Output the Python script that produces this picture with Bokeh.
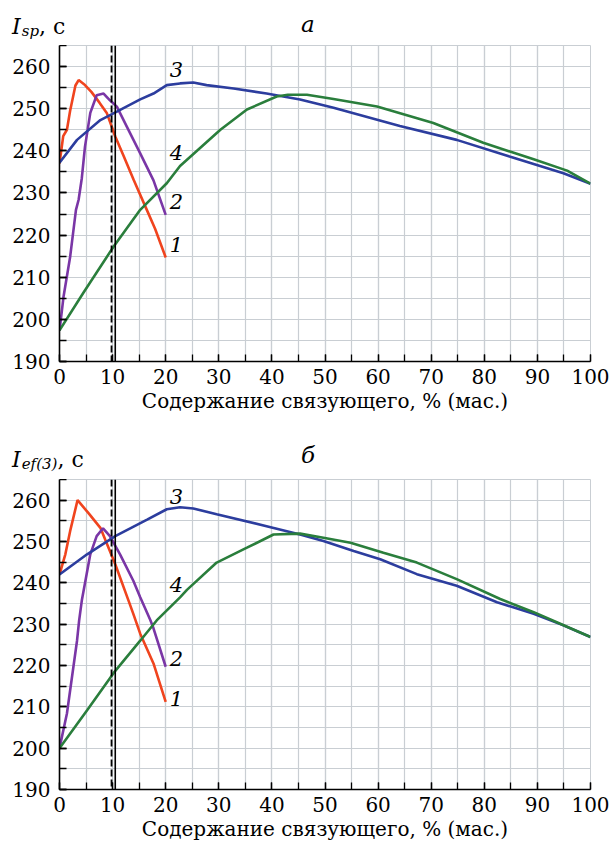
from bokeh.plotting import figure
from bokeh.layouts import column
from bokeh.models import FixedTicker, Span, Label, Range1d, Div
from bokeh.embed import file_html
from bokeh.resources import INLINE

# ---------------- data ----------------
x_ticks = [0, 10, 20, 30, 40, 50, 60, 70, 80, 90, 100]
y_ticks = [190, 200, 210, 220, 230, 240, 250, 260]
x_minor = list(range(0, 101, 5))
y_minor = list(range(190, 266, 5))
x_title = "Содержание связующего, % (мас.)"
vline_dashed = 9.8
vline_solid = 10.5

# panel a (I_sp)
a1_x = [0, 0.7, 1.4, 2, 3, 3.6, 4.8, 6, 7.5, 8.9, 10.5, 12, 14, 16.3, 18, 20]
a1_y = [237, 243.5, 245, 249.5, 255.5, 256.8, 255.6, 254, 251.5, 249, 243.4, 239, 233, 226.4, 221.5, 214.7]
a2_x = [0, 0.75, 2, 3.1, 3.6, 4.2, 4.8, 5.8, 7, 8.3, 9.5, 10.8, 12.7, 15.2, 17.7, 20]
a2_y = [197.3, 205.3, 214.8, 226, 228.4, 233.5, 241, 249, 253.2, 253.6, 252, 250.5, 245.7, 239.4, 233, 224.8]
a3_x = [0, 3.3, 7.7, 10.8, 15.2, 17.7, 20.2, 22.7, 25.2, 27.7, 32.8, 39, 45.3, 51.6, 64.1, 74.8, 84.9, 94.9, 100]
a3_y = [237.2, 242.6, 247.3, 249.3, 252.2, 253.6, 255.6, 256, 256.2, 255.6, 254.8, 253.6, 252.2, 250.2, 245.9, 242.6, 238.6, 234.7, 232.2]
a4_x = [0, 4.5, 10.2, 15.2, 20.2, 22.7, 30.3, 35.3, 40.9, 43, 46.6, 51.6, 59.8, 70.4, 79.8, 89.3, 95.6, 100]
a4_y = [197.4, 206.3, 217.3, 226, 232.3, 236.4, 245, 249.8, 252.9, 253.3, 253.3, 252.3, 250.5, 246.6, 241.9, 238, 235.3, 232.2]

# panel b (I_ef(3))
b1_x = [0, 1.1, 2, 3.4, 5.5, 7.7, 10.5, 13, 13.9, 15.2, 17.7, 20]
b1_y = [242, 246.9, 252.5, 260, 256.8, 253.3, 244.5, 235.7, 232.5, 227.7, 220.5, 211.2]
b2_x = [0, 1.4, 3.3, 3.7, 4.2, 5.8, 7, 8.2, 9.5, 11.4, 13.9, 15.2, 17.1, 17.7, 20]
b2_y = [200, 208.4, 226, 230.9, 235.7, 246.9, 251.3, 253.2, 251.3, 246.9, 240.5, 236.5, 231, 229, 219.7]
b3_x = [0, 5.2, 10.5, 16.5, 20.2, 22.7, 25.2, 29.6, 39, 45.3, 49.7, 55.4, 60.4, 67.3, 74.8, 82.4, 89.3, 94.9, 100]
b3_y = [242, 246.9, 251.3, 255.3, 257.8, 258.3, 258, 256.6, 253.7, 251.7, 250.1, 247.7, 245.7, 242.1, 239.3, 235.3, 232.5, 229.7, 226.9]
b4_x = [0, 5.2, 10.2, 15.2, 18.3, 22.7, 24, 29.6, 35.3, 40.3, 45.3, 49.7, 54.8, 61, 67.3, 74.8, 83, 89.3, 94.3, 100]
b4_y = [200, 209.2, 218.2, 226, 230.9, 236.5, 238.3, 244.9, 248.5, 251.7, 251.9, 250.9, 249.7, 247.3, 244.9, 240.9, 236.1, 232.9, 230.1, 226.9]

colors = ["#f0441e", "#7a36a6", "#2c3d9e", "#2a7e3c"]
curve_names = ["1", "2", "3", "4"]
a_label_y = [217.7, 227.9, 259.2, 239.5]
b_label_y = [212.1, 221.7, 261.0, 239.7]
label_x = 22

FONT = "DejaVu Serif"
GRID = "#c9ced3"


def header(height, sub, letter, base, letter_base):
    top_i = base - 18.6
    top_l = letter_base - 19.5
    html = (
        f'<div style="position:relative;width:611px;height:{height}px;margin:0;padding:0;'
        f"font-family:'DejaVu Serif',serif;color:black;\">"
        f'<span style="position:absolute;left:12px;top:{top_i}px;font-size:22px;line-height:22px;white-space:nowrap;">'
        f'<i>I</i><i style="font-size:15px;position:relative;top:2px;margin-left:1px;">{sub}</i>, с</span>'
        f'<span style="position:absolute;left:301px;top:{top_l}px;font-size:23px;line-height:23px;">'
        f'<i>{letter}</i></span></div>'
    )
    return Div(text=html, width=611, height=height, margin=(0, 0, 0, 0))


def make_panel(height, bottom, series, label_ys):
    p = figure(width=611, height=height, output_backend="svg", toolbar_location=None,
               x_range=Range1d(0, 100), y_range=Range1d(190, 265),
               min_border_left=59, min_border_right=21, min_border_top=0,
               min_border_bottom=bottom)
    p.outline_line_color = GRID
    p.background_fill_color = "white"
    p.border_fill_color = "white"
    xt = FixedTicker(ticks=x_ticks, minor_ticks=x_minor)
    yt = FixedTicker(ticks=y_ticks, minor_ticks=y_minor)
    p.xaxis.ticker = xt
    p.yaxis.ticker = yt
    p.xgrid.ticker = xt
    p.ygrid.ticker = yt
    for ax in (p.xaxis[0], p.yaxis[0]):
        ax.axis_line_color = "black"
        ax.axis_line_width = 1.6
        ax.major_tick_line_color = "black"
        ax.minor_tick_line_color = "black"
        ax.major_tick_line_width = 1.3
        ax.minor_tick_line_width = 1.3
        ax.major_tick_in = 7
        ax.major_tick_out = 0
        ax.minor_tick_in = 7
        ax.minor_tick_out = 0
        ax.major_label_text_font = FONT
        ax.major_label_text_font_size = "20px"
        ax.major_label_text_color = "black"
    p.xaxis.major_label_standoff = 7
    p.yaxis.major_label_standoff = 9
    p.xaxis.axis_label = x_title
    p.xaxis.axis_label_text_font = FONT
    p.xaxis.axis_label_text_font_style = "normal"
    p.xaxis.axis_label_text_font_size = "20px"
    p.xaxis.axis_label_standoff = 2
    p.xaxis.axis_label_text_color = "black"
    for g in (p.xgrid[0], p.ygrid[0]):
        g.grid_line_color = GRID
        g.grid_line_width = 1.2
        g.minor_grid_line_color = GRID
        g.minor_grid_line_width = 1.2

    for (xs, ys), c in zip(series, colors):
        p.line(xs, ys, line_color=c, line_width=2.6)

    p.add_layout(Span(location=vline_dashed, dimension="height", line_color="black",
                      line_width=1.8, line_dash="7 3"))
    p.add_layout(Span(location=vline_solid, dimension="height", line_color="black",
                      line_width=1.6))

    for name, ly in zip(curve_names, label_ys):
        p.add_layout(Label(x=label_x, y=ly, text=name, text_font=FONT, text_font_style="italic",
                           text_font_size="21px", text_align="center", text_baseline="middle",
                           text_color="black"))
    return p


ha = header(45, "sp", "а", 35, 32)
pa = make_panel(375, 59, [(a1_x, a1_y), (a2_x, a2_y), (a3_x, a3_y), (a4_x, a4_y)], a_label_y)
hb = header(59, "ef(3)", "б", 48, 43)
pb = make_panel(364, 53, [(b1_x, b1_y), (b2_x, b2_y), (b3_x, b3_y), (b4_x, b4_y)], b_label_y)

layout = column(ha, pa, hb, pb, spacing=0)
open("out.html", "w").write(file_html(layout, INLINE))
